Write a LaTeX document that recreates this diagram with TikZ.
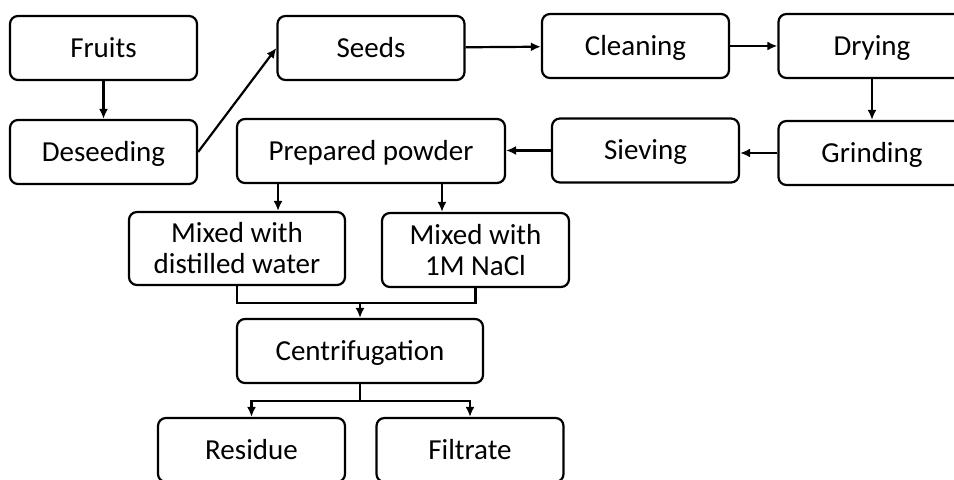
\documentclass[tikz,border=0pt]{standalone}
\usepackage{fontspec}
\setmainfont{Carlito}
\usetikzlibrary{arrows.meta}

\begin{document}
\begin{tikzpicture}[x=0.5pt, y=-0.5pt,
    box/.style={draw, line width=1.1pt, rounded corners=4pt, align=center, font=\fontsize{14.5}{15.5}\selectfont, minimum width=93.5pt, minimum height=32pt, inner sep=0pt},
    oneline/.style={text height=9.3pt, text depth=0pt},
    arr/.style={-{Latex[length=5pt,width=4.5pt]}, line width=1.1pt}]
  \clip (0, 0) rectangle (954, 480);

  % top row
  \node[box, oneline] (fruits) at (103.5, 48) {Fruits};
  \node[box, oneline] (seeds) at (371, 48) {Seeds};
  \node[box, oneline] (cleaning) at (635.5, 46) {Cleaning};
  \node[box, oneline] (drying) at (872, 46) {Drying};

  % second row
  \node[box, oneline] (deseed) at (103.5, 152) {Deseeding};
  \node[box, oneline, minimum width=134pt] (powder) at (371, 151) {Prepared powder};
  \node[box, oneline] (sieving) at (645.5, 150.5) {Sieving};
  \node[box, oneline] (grinding) at (872, 153) {Grinding};

  % extraction
  \node[box, minimum width=108pt, minimum height=36.5pt] (mixwater) at (237, 248.5) {Mixed with\\distilled water};
  \node[box, minimum height=37pt] (mixnacl) at (475.5, 250) {Mixed with\\1M NaCl};
  \node[box, oneline, minimum width=123pt] (centrif) at (360, 351) {Centrifugation};
  \node[box, oneline] (residue) at (251.5, 450) {Residue};
  \node[box, oneline] (filtrate) at (470, 450) {Filtrate};

  \coordinate (merge) at (360, 303);
  \coordinate (split) at (360, 401);

  \draw[arr] (fruits) -- (deseed);
  \draw[arr] (deseed.east) -- (seeds.west);
  \draw[arr] (seeds) -- (cleaning);
  \draw[arr] (cleaning) -- (drying);
  \draw[arr] (drying) -- (grinding);
  \draw[arr] (grinding.west) -- (sieving.east |- grinding.west);
  \draw[arr] (sieving.west) -- (powder.east |- sieving.west);
  \draw[arr] ([xshift=-46.5pt]powder.south) -- ([xshift=-46.5pt]powder.south |- mixwater.north);
  \draw[arr] ([xshift=35.5pt]powder.south) -- ([xshift=35.5pt]powder.south |- mixnacl.north);
  \draw[line width=1.1pt] (mixwater.south) |- (merge) -| (mixnacl.south);
  \draw[arr] (merge) -- (centrif.north);
  \draw[line width=1.1pt] (centrif.south) -- (split);
  \draw[arr] (split) -| (residue.north);
  \draw[arr] (split) -| (filtrate.north);
\end{tikzpicture}
\end{document}
